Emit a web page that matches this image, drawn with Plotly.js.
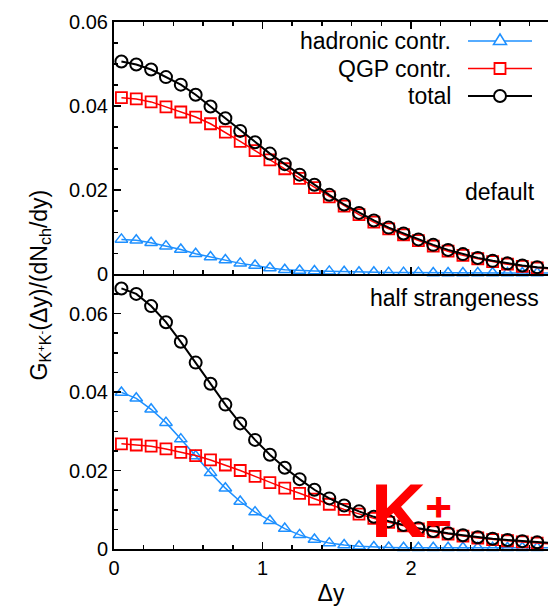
<!DOCTYPE html>
<html>
<head>
<meta charset="utf-8">
<script src="https://cdn.plot.ly/plotly-3.0.1.min.js"></script>
<style>
html,body{margin:0;padding:0;background:#fff;overflow:hidden;}
#chart{width:548px;height:606px;}
</style>
</head>
<body>
<div id="chart"></div>
<script>
// Δy values (bin centres)
const dy = [0.05,0.15,0.25,0.35,0.45,0.55,0.65,0.75,0.85,0.95,
            1.05,1.15,1.25,1.35,1.45,1.55,1.65,1.75,1.85,1.95,
            2.05,2.15,2.25,2.35,2.45,2.55,2.65,2.75,2.85,2.95];

// top panel: default
const defHadronic = [0.0083,0.0081,0.0075,0.0067,0.0059,0.0049,0.0041,0.0034,0.0026,0.0021,
                     0.0015,0.0011,0.0009,0.0008,0.0007,0.0006,0.0005,0.0005,0.0004,0.0004,
                     0.0004,0.0003,0.0003,0.0003,0.0003,0.0003,0.0003,0.0003,0.0003,0.0003];
const defQGP = [0.0420,0.0417,0.0410,0.0398,0.0386,0.0374,0.0358,0.0338,0.0316,0.0294,
                0.0272,0.0251,0.0228,0.0206,0.0184,0.0162,0.0142,0.0124,0.0108,0.0094,
                0.0080,0.0067,0.0055,0.0045,0.0037,0.0030,0.0024,0.0019,0.0015,0.0012];
const defTotal = [0.0506,0.0499,0.0487,0.0469,0.0451,0.0427,0.0399,0.0371,0.0341,0.0314,
                  0.0287,0.0262,0.0237,0.0213,0.0189,0.0166,0.0146,0.0128,0.0111,0.0097,
                  0.0083,0.0070,0.0058,0.0048,0.0039,0.0032,0.0026,0.0021,0.0017,0.0014];

// bottom panel: half strangeness
const halfHadronic = [0.0399,0.0384,0.0356,0.0322,0.0280,0.0237,0.0194,0.0155,0.0121,0.0094,
                      0.0072,0.0052,0.0036,0.0024,0.0015,0.0010,0.0007,0.0005,0.0004,0.0003,
                      0.0003,0.0003,0.0003,0.0003,0.0003,0.0003,0.0003,0.0003,0.0003,0.0003];
const halfQGP = [0.0268,0.0265,0.0262,0.0255,0.0246,0.0238,0.0227,0.0214,0.0200,0.0185,
                 0.0169,0.0155,0.0142,0.0127,0.0114,0.0101,0.0089,0.0078,0.0068,0.0059,
                 0.0051,0.0044,0.0038,0.0033,0.0028,0.0024,0.0021,0.0018,0.0015,0.0013];
const halfTotal = [0.0664,0.0650,0.0619,0.0578,0.0528,0.0475,0.0421,0.0368,0.0320,0.0278,
                   0.0240,0.0207,0.0178,0.0151,0.0129,0.0111,0.0096,0.0082,0.0071,0.0061,
                   0.0053,0.0046,0.0040,0.0035,0.0030,0.0026,0.0023,0.0020,0.0017,0.0015];

const seriesNames = ['hadronic contr.','QGP contr.','total'];
const yTicks = [0,0.02,0.04,0.06];
const xTicks = [0,1,2];

const BLUE = '#1e90ff', RED = '#ff0000', BLACK = '#000000';
const FONT = 'Liberation Sans, Arial, Helvetica, sans-serif';

function tr(y, which, xa, ya){
  const st = [
    {color:BLUE, symbol:'triangle-up-open', size:11, lw:1.5, mw:1.5},
    {color:RED, symbol:'square-open', size:11, lw:1.5, mw:1.8},
    {color:BLACK, symbol:'circle-open', size:12, lw:2, mw:2}
  ][which];
  return {x:dy, y:y, xaxis:xa, yaxis:ya, type:'scatter', mode:'lines+markers',
    name:seriesNames[which], showlegend:false, cliponaxis:false,
    line:{color:st.color, width:st.lw},
    marker:{symbol:st.symbol, size:st.size, color:st.color, line:{color:st.color, width:st.mw}}};
}

const data = [
  tr(halfHadronic,0,'x','y'), tr(halfQGP,1,'x','y'), tr(halfTotal,2,'x','y'),
  tr(defHadronic,0,'x2','y2'), tr(defQGP,1,'x2','y2'), tr(defTotal,2,'x2','y2')
];

// plot area geometry in pixels
const L=114, R=548, T=22, B=549;
const PW=R-L, PH=B-T;
const px = v => (v-L)/PW;
const py = v => (B-v)/PH;

const split = py(274.3);

const xCommon = {
  range:[0,2.923], showline:true, linecolor:'black', linewidth:2,
  ticks:'inside', ticklen:7, tickwidth:1.5, tickcolor:'black',
  tickvals:xTicks, showgrid:false, zeroline:false,
  minor:{dtick:0.2, ticks:'inside', ticklen:4, tickwidth:1.5, tickcolor:'black'},
  tickfont:{family:FONT, size:20, color:'black'}
};
const yCommon = {
  showline:true, linecolor:'black', linewidth:2, mirror:false,
  ticks:'inside', ticklen:7, tickwidth:1.5, tickcolor:'black',
  tickvals:yTicks, ticktext:yTicks.map(v=>String(v)), showgrid:false, zeroline:false,
  minor:{dtick:0.005, ticks:'inside', ticklen:4, tickwidth:1.5, tickcolor:'black'},
  tickfont:{family:FONT, size:20, color:'black'}
};

// legend (manual, gnuplot style: text then sample)
const legendRows = [41, 68.5, 96];
const legendColors = [BLUE, RED, BLACK];
const shapes = [];
const annotations = [];
legendRows.forEach((ry,i)=>{
  shapes.push({type:'line', xref:'paper', yref:'paper', x0:px(468), x1:px(532), y0:py(ry), y1:py(ry),
    line:{color:legendColors[i], width:i===2?2:1.5}});
  annotations.push({xref:'paper', yref:'paper', x:px(453), y:py(ry), xanchor:'right', yanchor:'middle',
    text:seriesNames[i], showarrow:false, font:{family:FONT, size:23, color:'black'}});
});
// legend symbols
const cx=500;
{
  const ry=legendRows[0];
  const p = (a,b)=>px(a)+','+py(b);
  shapes.push({type:'path', xref:'paper', yref:'paper',
    path:'M'+p(cx,ry-7)+' L'+p(cx+6.5,ry+3.5)+' L'+p(cx-6.5,ry+3.5)+' Z',
    fillcolor:'white', line:{color:BLUE, width:1.5}});
}
{
  const ry=legendRows[1];
  shapes.push({type:'rect', xref:'paper', yref:'paper', x0:px(cx-5.5), x1:px(cx+5.5), y0:py(ry+5.5), y1:py(ry-5.5),
    fillcolor:'white', line:{color:RED, width:1.8}});
}
{
  const ry=legendRows[2];
  shapes.push({type:'circle', xref:'paper', yref:'paper', x0:px(cx-6), x1:px(cx+6), y0:py(ry+6), y1:py(ry-6),
    fillcolor:'white', line:{color:BLACK, width:2}});
}

annotations.push(
  {xref:'paper', yref:'paper', x:px(537), y:py(192), xanchor:'right', yanchor:'middle',
   text:'default', showarrow:false, font:{family:FONT, size:23, color:'black'}},
  {xref:'paper', yref:'paper', x:px(541), y:py(298), xanchor:'right', yanchor:'middle',
   text:'half strangeness', showarrow:false, font:{family:FONT, size:23, color:'black'}},
  {xref:'paper', yref:'paper', x:px(40), y:py(285.5), xanchor:'center', yanchor:'middle', textangle:-90,
   text:'G<sub>K<sup>+</sup>K<sup>-</sup></sub>(Δy)/(dN<sub>ch</sub>/dy)', showarrow:false,
   font:{family:FONT, size:23, color:'black'}},
  {xref:'paper', yref:'paper', x:px(369), y:py(510), xanchor:'left', yanchor:'middle',
   text:'<b>K</b>', showarrow:false, font:{family:FONT, size:76, color:RED}},
  {xref:'paper', yref:'paper', x:px(424), y:py(510), xanchor:'left', yanchor:'middle',
   text:'<b>±</b>', showarrow:false, font:{family:FONT, size:46, color:RED}}
);

const layout = {
  width:548, height:606,
  margin:{l:L, r:548-R, t:T, b:606-B, pad:0},
  paper_bgcolor:'white', plot_bgcolor:'white',
  showlegend:false,
  xaxis: Object.assign({}, xCommon, {anchor:'y', domain:[0,1], mirror:false,
    title:{text:'Δy', font:{family:FONT, size:23, color:'black'}, standoff:8}}),
  yaxis: Object.assign({}, yCommon, {anchor:'x', domain:[0,split], range:[0,0.07]}),
  xaxis2: Object.assign({}, xCommon, {anchor:'y2', matches:'x', showticklabels:false, mirror:'ticks'}),
  yaxis2: Object.assign({}, yCommon, {anchor:'x2', domain:[split,1], range:[0,0.06]}),
  shapes:shapes,
  annotations:annotations
};

Plotly.newPlot('chart', data, layout, {displayModeBar:false, staticPlot:true});
</script>
</body>
</html>
